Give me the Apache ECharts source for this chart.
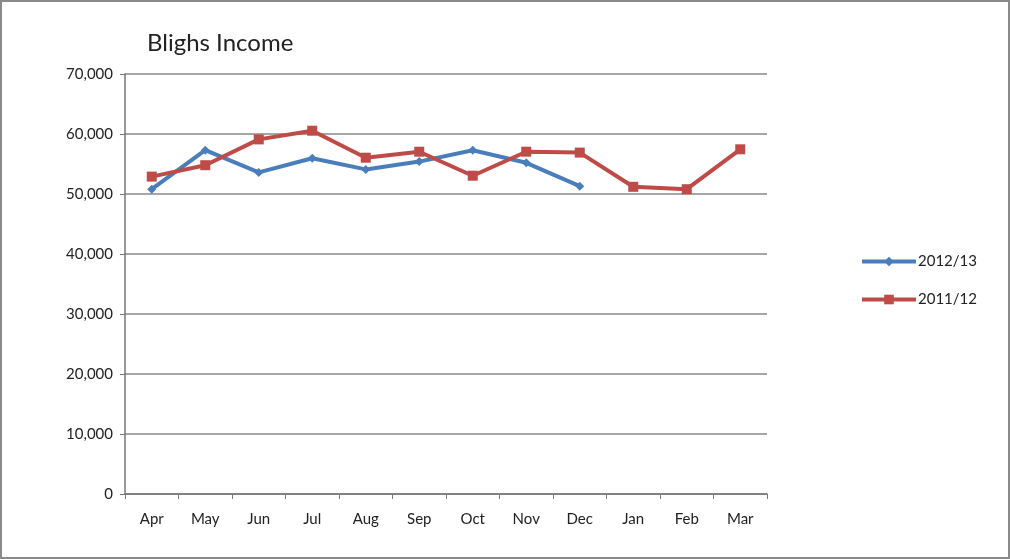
<!DOCTYPE html>
<html>
<head>
<meta charset="utf-8">
<script src="https://cdn.jsdelivr.net/npm/echarts@6/dist/echarts.min.js"></script>
<style>
  html, body { margin: 0; padding: 0; background: #fff; }
  #main { width: 1010px; height: 559px; box-sizing: border-box; border: 2px solid #8a8a8a; }
</style>
</head>
<body>
<div id="main"></div>
<script>
  // months of the financial year
  var months = ['Apr', 'May', 'Jun', 'Jul', 'Aug', 'Sep', 'Oct', 'Nov', 'Dec', 'Jan', 'Feb', 'Mar'];
  var income1213 = [50800, 57300, 53600, 55950, 54100, 55400, 57300, 55200, 51300];
  var income1112 = [52900, 54800, 59100, 60550, 56050, 57050, 53050, 57050, 56900, 51200, 50800, 57450];

  var myChart = echarts.init(document.getElementById('main'));
  var font = 'Lato, "Open Sans", sans-serif';

  var option = {
    animation: false,
    title: {
      text: 'Blighs Income',
      left: 140,
      top: 24,
      textStyle: { fontFamily: font, fontSize: 24, fontWeight: 'normal', color: '#222' }
    },
    legend: {
      orient: 'vertical',
      left: 853,
      top: 247,
      itemGap: 23,
      itemWidth: 54,
      itemHeight: 12,
      data: ['2012/13', '2011/12'],
      lineStyle: { width: 4 },
      textStyle: { fontFamily: font, fontSize: 15, color: '#222', padding: [0, 0, 0, -3] }
    },
    grid: { left: 123, right: 241, top: 72, bottom: 63 },
    xAxis: {
      type: 'category',
      data: months,
      boundaryGap: true,
      axisLine: { lineStyle: { color: '#777', width: 1.5 } },
      axisTick: { show: true, length: 5, lineStyle: { color: '#777' } },
      axisLabel: { fontFamily: font, fontSize: 15, color: '#222', margin: 18 }
    },
    yAxis: {
      type: 'value',
      min: 0,
      max: 70000,
      interval: 10000,
      axisLine: { show: true, lineStyle: { color: '#777', width: 1.5 } },
      axisTick: { show: true, length: 5, lineStyle: { color: '#777' } },
      splitLine: { lineStyle: { color: '#888', width: 1.5 } },
      axisLabel: {
        fontFamily: font, fontSize: 15, color: '#222', margin: 12,
        formatter: function (v) { return v.toLocaleString('en-US'); }
      }
    },
    series: [
      {
        name: '2012/13',
        type: 'line',
        data: income1213,
        symbol: 'diamond',
        symbolSize: 9,
        lineStyle: { color: '#4a7ebb', width: 4 },
        itemStyle: { color: '#4a7ebb' }
      },
      {
        name: '2011/12',
        type: 'line',
        data: income1112,
        symbol: 'rect',
        symbolSize: 10,
        lineStyle: { color: '#be4b48', width: 4 },
        itemStyle: { color: '#be4b48' }
      }
    ]
  };

  myChart.setOption(option);
</script>
</body>
</html>
